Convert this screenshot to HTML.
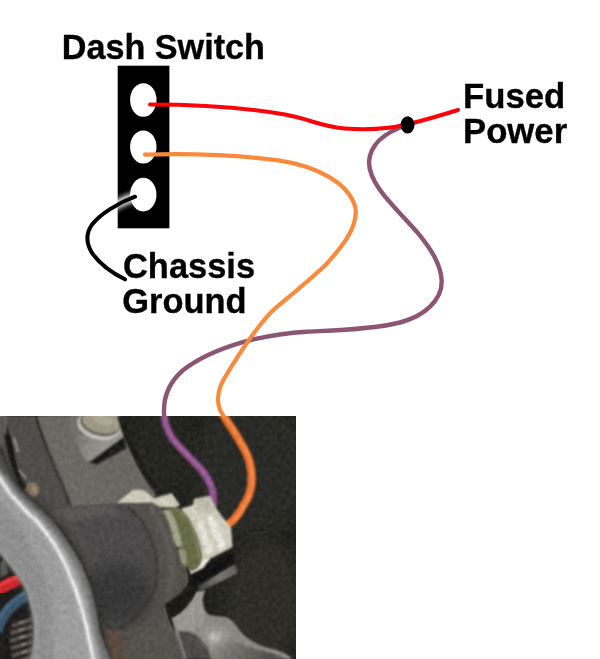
<!DOCTYPE html>
<html>
<head>
<meta charset="utf-8">
<title>Dash Switch Wiring</title>
<style>
html,body{margin:0;padding:0;background:#fff;}
body{width:600px;height:659px;overflow:hidden;position:relative;font-family:"Liberation Sans",sans-serif;}
svg{position:absolute;left:0;top:0;display:block;}
text{font-family:"Liberation Sans",sans-serif;font-weight:bold;fill:#000;}
</style>
</head>
<body>
<svg width="600" height="659" viewBox="0 0 600 659">
<defs>
  <clipPath id="photoClip"><rect x="0" y="416" width="296" height="243"/></clipPath>
  <clipPath id="swClip"><rect x="117.5" y="66" width="52" height="162"/></clipPath>
  <filter id="b1" x="-20%" y="-20%" width="140%" height="140%"><feGaussianBlur stdDeviation="1"/></filter>
  <filter id="b2" x="-20%" y="-20%" width="140%" height="140%"><feGaussianBlur stdDeviation="2"/></filter>
  <filter id="b3" x="-20%" y="-20%" width="140%" height="140%"><feGaussianBlur stdDeviation="3"/></filter>
  <filter id="b5" x="-30%" y="-30%" width="160%" height="160%"><feGaussianBlur stdDeviation="5"/></filter>
  <filter id="b8" x="-30%" y="-30%" width="160%" height="160%"><feGaussianBlur stdDeviation="8"/></filter>
  <linearGradient id="bandG" gradientUnits="userSpaceOnUse" x1="10" y1="450" x2="100" y2="659">
    <stop offset="0" stop-color="#585858"/><stop offset="0.3" stop-color="#7a7a7a"/><stop offset="0.6" stop-color="#949494"/><stop offset="1" stop-color="#8a8a8a"/>
  </linearGradient>
  <linearGradient id="faceG" gradientUnits="userSpaceOnUse" x1="20" y1="600" x2="85" y2="585">
    <stop offset="0" stop-color="#6f6f6f"/><stop offset="0.45" stop-color="#808080"/><stop offset="1" stop-color="#8e8e90"/>
  </linearGradient>
  <filter id="glow" filterUnits="userSpaceOnUse" x="95" y="170" width="70" height="60"><feGaussianBlur stdDeviation="2.600"/></filter>
  <linearGradient id="barG" gradientUnits="userSpaceOnUse" x1="198" y1="589" x2="236" y2="568">
    <stop offset="0" stop-color="#3e3c39"/><stop offset="0.55" stop-color="#7c7a75"/><stop offset="1" stop-color="#65635f"/>
  </linearGradient>
  <filter id="grain" filterUnits="userSpaceOnUse" x="0" y="416" width="296" height="243">
    <feTurbulence type="fractalNoise" baseFrequency="0.22" numOctaves="2" seed="7" result="n"/>
    <feColorMatrix type="matrix" values="0 0 0 0 0.5  0 0 0 0 0.5  0 0 0 0 0.5  0.9 0.9 0.9 0 -0.95"/>
  </filter>
  <filter id="grainD" filterUnits="userSpaceOnUse" x="0" y="416" width="296" height="243">
    <feTurbulence type="fractalNoise" baseFrequency="0.2" numOctaves="2" seed="23" result="n"/>
    <feColorMatrix type="matrix" values="0 0 0 0 0  0 0 0 0 0  0 0 0 0 0  0.9 0.9 0.9 0 -1.0"/>
  </filter>
  <filter id="noop" x="-5%" y="-5%" width="110%" height="110%"><feOffset dx="0" dy="0"/></filter>
  <linearGradient id="bossG" gradientUnits="userSpaceOnUse" x1="72" y1="440" x2="104" y2="452">
    <stop offset="0" stop-color="#74726d"/><stop offset="0.5" stop-color="#8e8c86"/><stop offset="1" stop-color="#9c9a94"/>
  </linearGradient>
  <linearGradient id="bossLG" gradientUnits="userSpaceOnUse" x1="222" y1="636" x2="262" y2="664">
    <stop offset="0" stop-color="#8a8882"/><stop offset="0.5" stop-color="#6e6c68"/><stop offset="1" stop-color="#55534f"/>
  </linearGradient>
</defs>

<!-- ================= PHOTO ================= -->
<g id="photo" clip-path="url(#photoClip)">
  <rect x="0" y="416" width="296" height="243" fill="#1d1d19"/>
  <!--PHOTO-START-->
  <!-- carpet subtle tonal variation -->
  <ellipse cx="250" cy="470" rx="60" ry="70" fill="#262621" filter="url(#b8)"/>
  <ellipse cx="265" cy="600" rx="40" ry="60" fill="#292924" filter="url(#b8)"/>
  <ellipse cx="160" cy="450" rx="30" ry="40" fill="#21211e" filter="url(#b8)"/>

  <!-- ===== top-left bracket casting ===== -->
  <g filter="url(#b1)">
    <path d="M0 416 L118 416 C121 428 126 440 131 450 C137 464 144 476 153 489 L156 496 L120 512 L40 525 L0 480 Z" fill="#6b6963"/>
    <!-- dark channel on the left -->
    <path d="M6 416 L37 416 C42 440 54 464 64 488 L72 510 L40 525 L8 470 Z" fill="#4f4d4a"/>
    <!-- ridge line -->
    <path d="M36 416 C42 440 54 464 64 488 L71 506" stroke="#262422" stroke-width="2.800" fill="none"/>
    <!-- deep shadow beside arm -->
    <path d="M6 424 C12 438 15 456 17 470 C19 480 22 486 26 494 L10 478 L4 450 Z" fill="#121110"/>
  </g>
  <!-- lighter plate -->
  <path d="M44 416 L78 416 L96 470 L122 500 L76 505 C62 480 50 445 44 416 Z" fill="#6d6b65" filter="url(#b3)"/>
  <!-- rusty bolt -->
  <ellipse cx="32" cy="490" rx="7" ry="8" fill="#8d7a64" filter="url(#b1)"/>
  <ellipse cx="33" cy="491" rx="3.5" ry="4.5" fill="#a3927c" filter="url(#b1)"/>
  <path d="M14 438 L18 452 M18 470 L26 478" stroke="#a8a6a0" stroke-width="2" fill="none" filter="url(#b1)"/>
  <!-- boss cylinder -->
  <g filter="url(#b1)">
    <!-- lit side -->
    <path d="M70.500 410 L119 410 L124 437 L88.400 462.600 C84 458 78 448 73.300 436.500 C71.500 430 70.500 422 70.500 410 Z" fill="url(#bossG)"/>
    <!-- top face: outer rim, dark ring, beige face -->
    <ellipse cx="99" cy="425.500" rx="22" ry="14" transform="rotate(14 99 425.500)" fill="#cbc9c2"/>
    <ellipse cx="100" cy="423.500" rx="20.500" ry="12.300" transform="rotate(14 100 423.500)" fill="#67645a"/>
    <ellipse cx="101" cy="422" rx="19" ry="10.800" transform="rotate(14 101 422)" fill="#a49e8a"/>
    <ellipse cx="104" cy="420" rx="10" ry="5.500" transform="rotate(14 104 420)" fill="#b4ae9a"/>
    <!-- shadow wedge under boss -->
    <path d="M88.400 462.600 L124 436 L126.500 448 L97 464.500 Z" fill="#181716"/>
  </g>
  <!-- dark edge between casting and carpet -->
  <path d="M119.500 416 C122.500 428 127.500 440 132.500 450 C138.500 464 145.500 476 154 488" stroke="#121211" stroke-width="4" fill="none" filter="url(#b1)"/>

  <!-- ===== bottom-left clutter (wires, spring) ===== -->
  <path d="M0 548 L14 566 L24 582 L32 600 L35 624 L32 659 L0 659 Z" fill="#1a1918"/>
  <!-- grey bits above red wire -->
  <path d="M0 562 L6 560 L8 574 L0 578 Z" fill="#555452" filter="url(#b1)"/>
  <!-- red wire -->
  <path d="M-4 590.500 L20 578.500" stroke="#d8212a" stroke-width="12" stroke-linecap="butt" filter="url(#b1)"/>
  <path d="M-4 587 L18 576" stroke="#f4463f" stroke-width="3.500" stroke-linecap="butt" opacity="0.8" filter="url(#b1)"/>
  <!-- blue wire -->
  <path d="M-3 632 C1 616 9 606 27 595" stroke="#38546d" stroke-width="10.500" fill="none" filter="url(#b1)"/>
  <path d="M-3 626 C1 612 8 603 25 592.500" stroke="#56748c" stroke-width="2.500" fill="none" opacity="0.8" filter="url(#b1)"/>
  <!-- spring coils -->
  <g filter="url(#b1)" fill="none">
    <g stroke="#5c534e" stroke-width="4.200">
      <path d="M12 626 L33 619"/><path d="M10 633.500 L33 626.500"/><path d="M10 641 L33 634"/><path d="M11 648.500 L33 641.500"/><path d="M12 656 L33 649"/><path d="M14 663 L33 656.500"/>
    </g>
    <g stroke="#b9b2aa" stroke-width="1.300">
      <path d="M19 622.500 L24 621"/><path d="M19 630 L24 628.500"/><path d="M20 637.500 L25 636"/><path d="M21 645 L26 643.500"/><path d="M22 652.500 L27 651"/>
    </g>
  </g>

  <!-- ===== pedal arm ===== -->
  <g filter="url(#b1)">
    <!-- side face (band) -->
    <path d="M-8 420 L-8 470 L0 478 C8 492 22 508 36 520 C48 534 58 548 66 566 C74 584 82 606 87 629 L95 668 L114 668 L112 659 C108 648 104 640 101 630 C98 610 94 590 87 574 C80 556 70 542 60 528 C48 512 34 502 20 488 C10 474 4 458 0 446 Z" fill="url(#bandG)"/>
    <!-- top face -->
    <path d="M-8 470 L0 478 C8 492 22 508 36 520 C48 534 58 548 66 566 C74 584 82 606 87 629 L95 668 L30 668 L31 659 C34 645 35 630 33 618 C31 604 27 592 22 582 C17 574 10 566 0 553 L-8 545 Z" fill="#a3a3a3"/>
    <!-- upper-left part of the arm -->
    <path d="M-8 410 L5 410 L5 416 C6 440 10 458 20 488 L0 470 L-8 466 Z" fill="#5a5a5a"/>
  </g>
  <!-- top-face shading (a bit darker to the left) -->
  <path d="M-8 492 L0 500 C16 520 34 545 46 580 C54 610 54 640 52 668 L30 668 L31 659 C34 645 35 630 33 618 C31 604 27 592 22 582 C17 574 10 566 0 553 L-8 545 Z" fill="#939393" filter="url(#b3)"/>
  <!-- faint machining arcs on the top face -->
  <g fill="none" stroke="#8a8a8a" stroke-width="1" opacity="0.5" filter="url(#b1)">
    <path d="M2 520 C20 522 38 534 50 552"/>
    <path d="M4 534 C22 538 40 552 52 572"/>
    <path d="M12 556 C28 560 44 574 56 596"/>
    <path d="M24 580 C36 584 50 598 60 620"/>
    <path d="M32 606 C42 610 54 622 64 644"/>
  </g>
  <!-- bright edge highlight -->
  <path d="M4 476 C12 490 26 506 40 518 C52 532 62 546 70 564 C78 582 86 604 91 627 L98 668" stroke="#a8a8aa" stroke-width="7" fill="none" opacity="0.55" filter="url(#b2)"/>
  <path d="M-4 471 L1 478 C9 492 23 508 37 520 C49 534 59 548 67 566 C75 584 83 606 88 629 L96 668" stroke="#d4d4d6" stroke-width="7" fill="none" opacity="0.65" filter="url(#b2)"/>
  <path d="M-5 471 L0 478 C8 492 22 508 36 520 C48 534 58 548 66 566 C74 584 82 606 87 629 L95 668" stroke="#fafafc" stroke-width="3" fill="none" filter="url(#b1)"/>

  <!-- deep shadow in the channel next to the arm -->
  <path d="M6.500 436 C8.500 446 11 458 14 466 C16.500 474 19.500 481 23.500 487" stroke="#121110" stroke-width="4.500" fill="none" stroke-linecap="round" filter="url(#b1)"/>
  <!-- ===== central dark cast body ===== -->
  <clipPath id="bodyClip"><path d="M46 511 C70 506 100 504 133 502.700 L152 502.700 L160 507 C166 516 171 528 174 544 C182 556 187 566 188 582 C184 592 176 598 165 605 C166 616 172 628 176 636 C180 644 182 652 183 659 L112 659 C108 648 104 640 101 630 C98 610 94 590 87 574 C80 556 70 542 60 528 C56 522 52 516 46 511 Z"/></clipPath>
  <g filter="url(#b1)">
    <path d="M46 511 C70 506 100 504 133 502.700 L152 502.700 L160 507 C166 516 171 528 174 544 C182 556 187 566 188 582 C184 592 176 598 165 605 C166 616 172 628 176 636 C180 644 182 652 183 659 L112 659 C108 648 104 640 101 630 C98 610 94 590 87 574 C80 556 70 542 60 528 C56 522 52 516 46 511 Z" fill="#4b4a48"/>
  </g>
  <g clip-path="url(#bodyClip)">
    <!-- leg / collar part (lighter) wrapping right and below the barrel -->
    <path d="M126 500 L152 500 L165 505 L190 560 L192 585 L176 598 L165 605 L172 628 L186 662 L96 662 L96 608 C100 618 105 626 111 628.500 C116 630 124 628 131 622 C139 615 147 604 152 594 C156 586 158 578 157.300 570 C157 556 152 540 146.700 529.700 C142 520 134 512 126 506 Z" fill="#52504c" filter="url(#b2)"/>
    <!-- barrel lighter top stripe -->
    <path d="M44 512 C66 507 90 505.500 112 505 C116 508 118 511 120 514 C98 515 76 520 56 528 Z" fill="#5b5957" filter="url(#b2)"/>
    <!-- barrel lighter left (near arm) -->
    <path d="M48 512 C60 522 72 540 84 566 C90 580 94 596 98 612 L110 612 C104 580 92 548 70 520 Z" fill="#514f4d" filter="url(#b3)"/>
    <!-- barrel dark core -->
    <ellipse cx="118" cy="594" rx="34" ry="30" fill="#363534" filter="url(#b8)"/>
    <!-- seam between barrel end and leg -->
    <path d="M128 507 C136 513 142 520 146.700 529.700 C152 540 157 556 157.300 570 C158 578 156 586 152 594 C147 604 139 615 131 622 C124 628 116 630 111 628.500 C105 626 100 618 96 608" stroke="#2f2e2c" stroke-width="2" fill="none" opacity="0.75" filter="url(#b1)"/>
    <!-- leg highlights -->
    <path d="M150 506 C160 520 168 540 172 560 C174 572 172 584 166 594" stroke="#66635f" stroke-width="5" fill="none" opacity="0.7" filter="url(#b2)"/>
    <path d="M132 634 C146 630 158 620 168 610 L178 640 L182 662 L136 662 Z" fill="#56534e" filter="url(#b3)"/>
  </g>
  <!-- dark seam between arm band and body -->
  <path d="M0 446 C4 458 10 474 20 488 C34 502 48 512 60 528 C70 542 80 556 87 574 C94 590 98 610 101 630 C104 640 108 648 112 659" stroke="#2a2928" stroke-width="12" fill="none" opacity="0.42" filter="url(#b3)"/>
  <path d="M0 446 C4 458 10 474 20 488 C34 502 48 512 60 528 C70 542 80 556 87 574 C94 590 98 610 101 630 C104 640 108 648 112 659" stroke="#2b2a28" stroke-width="2.200" fill="none" opacity="0.8" filter="url(#b1)"/>
  <!-- rust patch -->
  <path d="M107 632 C112 630 118 630 121 632 L124 662 L112 662 Z" fill="#5b4a3d" filter="url(#b2)"/>

  <!-- ===== lower-right light casting ===== -->
  <g filter="url(#b1)">
    <!-- boss + neck -->
    <path d="M196 592 L205 590 L202 600 L204.500 610 L209 615 L225 617 C230 618 234 622 238 628 C244 638 256 644 268 648 C280 650 288 654 292 659 L183 659 C182 652 180 644 176 636 L172 618 C182 614 190 604 196 592 Z" fill="#8e8c86"/>
    <!-- lighter zone near body / neck -->
    <path d="M172 618 C182 614 190 604 196 592 L205 590 L202 600 L204.500 610 C207 622 200 630 190 631 L177 631 Z" fill="#9d9b95"/>
    <!-- boss lower part slightly darker -->
    <path d="M224 634 C236 644 254 649 270 652 L296 662 L211 662 L214 646 Z" fill="url(#bossLG)"/>
    <!-- boss inner dark ellipse -->
    <path d="M178 631 C186 630 196 633 202 640 C208 646 210 652 211 659 L186 659 C184 650 180 640 178 631 Z" fill="#4b4a48"/>
  </g>
  <ellipse cx="215" cy="637" rx="6" ry="5" fill="#e9e9e6" filter="url(#b2)"/>
  <ellipse cx="215" cy="637" rx="14" ry="10" fill="#a9a7a2" opacity="0.6" filter="url(#b3)"/>
  <!-- horizontal bar -->
  <path d="M197 586.500 L207.500 580.500 L219.500 573 L234.500 564 L237.500 573 L222.500 580.500 L207.500 588 L200 591 Z" fill="url(#barG)" filter="url(#b1)"/>
  <!-- shadow between body and casting -->
  <path d="M166 604 C176 598 186 592 190 582 L196 590 C192 600 184 610 172 616 Z" fill="#121211" filter="url(#b1)"/>
  <!-- dark gap under connector -->
  <path d="M190 574 L231 551 L235.500 562.500 L219.500 571.500 L207 579 L198 585 L194 590 Z" fill="#0e0e0d" filter="url(#b1)"/>

  <!-- ===== real wires in photo (behind connector) ===== -->
  <g filter="url(#b1)" fill="none" stroke-linecap="round">
    <path d="M164 414 C165 424 168 432 172 438 C178 446 190 458 200 468 C207 476 211 484 213 493 L213.500 504" stroke="#8d4c8a" stroke-width="7.400"/>
    <path d="M164.500 414 C165.500 424 168.500 432 172.500 438 C178.500 446 190.500 458 200.500 468 C207.500 476 211.500 484 213.500 493" stroke="#a463a2" stroke-width="3"/>
    <path d="M220 410 C224 416 229 424 233 430 C240 441 245 450 248 457 C251 465 252 474 251.500 483 C251 492 247 500 243 506 C239 514 234 521 226 526" stroke="#f0702a" stroke-width="8.200"/>
    <path d="M221 410 C225 416 230 424 234 430 C241 441 246 450 249 457 C252 465 253 474 252.500 483 C252 492 248 500 244 506 C240 514 235 521 228 525" stroke="#ff8b45" stroke-width="3.600"/>
  </g>
  <!-- ===== connector (cream plastic) ===== -->
  <g filter="url(#b1)">
    <path d="M117 502.700 L133.300 489.800 L142.700 489.800 L154.300 498 L171.800 493.300 L180 505 L174 509 L160 507 L152 502.700 L133 502.700 Z" fill="#d6d2c0"/>
    <path d="M181 508.500 L193 505 L194 499 L210 495.700 L217 509.700 L231 528 L232.500 547 L210 558.700 L203 568 L190.500 574 L189 560 L186 530 Z" fill="#d8d5c6"/>
    <path d="M194 499 L210 495.700 L217 509.700 L201 514 Z" fill="#c9c5b5"/>
    <path d="M207 518 L212 516 L226 546 L220 550 Z" fill="#f6f4ec"/>
    <path d="M197 522 L202 521 L213 552 L207 555 Z" fill="#efede3"/>
    <path d="M190.500 574 L203 568 L210 558.700 L200 560 L192 566 Z" fill="#f2f0e6"/>
  </g>
  <!-- green o-ring -->
  <g filter="url(#b1)">
    <path d="M162.500 509.700 C166 507 173 506 178 508 C186 512 191 520 194 528 C198 536 201 546 202 556 C202 564 198 570 192 571 C190 571 188 570 187 568 C187 556 182 548 176 544 C172 528 168 518 162.500 509.700 Z" fill="#666c47"/>
    <!-- translucent lighter inner lip -->
    <path d="M162.500 511 C166 509.500 169 510 171 512 C176 520 180 534 182.500 546 L178 548 C176 546 174 544 173 540 C171 528 167 518 162.500 511 Z" fill="#a4a88a"/>
    <path d="M178 549 C181 548 184 549 186 552 C187 558 187 564 186 567 L181 562 C180 557 179 553 178 549 Z" fill="#959a78"/>
    <!-- outer rim highlight -->
    <path d="M176 509 C185 513 190 522 193 530 C197 540 199 550 199 558" stroke="#7d8359" stroke-width="2.400" fill="none"/>
  </g>

  <!-- film grain -->
  <rect x="0" y="416" width="296" height="243" filter="url(#grain)" opacity="0.10"/>
  <rect x="0" y="416" width="296" height="243" filter="url(#grainD)" opacity="0.11"/>
  <!--PHOTO-END-->
</g>

<!-- ================= DIAGRAM ================= -->
<!-- switch body -->
<rect x="117.700" y="65.700" width="51.700" height="162.600" fill="#000"/>
<ellipse cx="143.300" cy="100" rx="13.200" ry="16.800" fill="#fff"/>
<ellipse cx="143.300" cy="147" rx="13.200" ry="16.600" fill="#fff"/>
<ellipse cx="143.300" cy="194.600" rx="13.200" ry="16.800" fill="#fff"/>

<!-- black ground wire with glow inside the switch -->
<g clip-path="url(#swClip)">
  <path d="M135 196.7 C128 199 122 201.500 112 207" fill="none" stroke="#fff" stroke-width="9" stroke-linecap="round" filter="url(#glow)" opacity="0.95"/>
</g>
<path d="M135 196.700 C118 203 100 214 91.700 225 C85 235 86.500 244 92 253 C100 264 112 273 125 279.300" fill="none" stroke="#000" stroke-width="4" stroke-linecap="round"/>

<!-- purple wire -->
<path id="purple" d="M407 125 C383 133 370 145 369 162 C369 185 395 207 416.700 231.700 C432 250 441 265 441.700 281 C442 300 425 316 400 322.500 C370 330 330 330.500 306.700 331.700 C265 334 215 346 183.300 370 C168 383 162.500 400 164.300 417.500" fill="none" stroke="#8c5573" stroke-width="4.400" stroke-linecap="butt" stroke-linejoin="round"/>

<!-- orange wire -->
<path id="orange" d="M145 154.600 C185 153.600 240 155 280 160.600 C315 166 349 182 355.500 208 C358 228 341 248 325.500 265 C308 281.500 291 295 273.300 310 C255 328 237 357 223.300 380 C217 392 217 402 220 410 L224.500 417.500" fill="none" stroke="#f98a3c" stroke-width="4.200" stroke-linecap="butt" stroke-linejoin="round"/>

<circle cx="145" cy="154.600" r="2.100" fill="#f98a3c"/>

<!-- red wire -->
<path id="red" d="M150 104.500 C195 104.500 245 107.500 285 114.500 C310 119 322 127 345 128.500 C365 130 390 128.500 407 124.500 C425 120 442 115 458 110" fill="none" stroke="#fd0208" stroke-width="4" stroke-linecap="round" stroke-linejoin="round"/>

<!-- junction node -->
<ellipse cx="407.600" cy="124.900" rx="6.900" ry="8.700" fill="#000"/>

<!-- labels -->
<g stroke="#000" stroke-width="0.350" stroke-linejoin="round" filter="url(#noop)">
<text transform="translate(61.700 58.600) scale(0.977 1.025)" font-size="35">Dash Switch</text>
<text transform="translate(463 108.100) scale(0.992 1.025)" font-size="35">Fused</text>
<text transform="translate(463 143.400) scale(0.992 1.025)" font-size="35">Power</text>
<text transform="translate(123 278.100) scale(0.984 1.025)" font-size="35">Chassis</text>
<text transform="translate(122.300 312.600) scale(0.984 1.025)" font-size="35">Ground</text>
</g>
</svg>
</body>
</html>
